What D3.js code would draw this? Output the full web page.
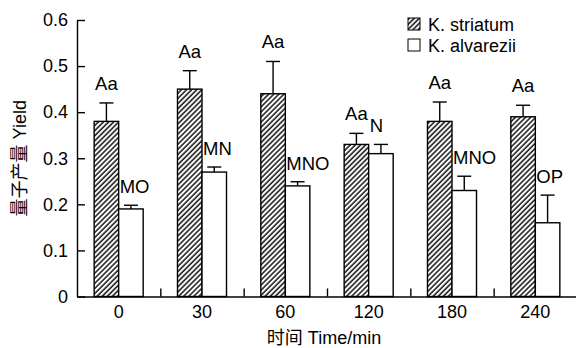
<!DOCTYPE html>
<html>
<head>
<meta charset="utf-8">
<script src="https://cdn.jsdelivr.net/npm/d3@7"></script>
<style>
  body { margin: 0; background: #fff; }
  svg text { font-family: "Liberation Sans", Arial, "Noto Sans CJK SC", sans-serif; fill: #000; }
</style>
</head>
<body>
<div id="chart"></div>
<script>
// data
const times = ["0", "30", "60", "120", "180", "240"];
const series = ["K. striatum", "K. alvarezii"];
const striatum = [0.38, 0.45, 0.44, 0.33, 0.38, 0.39];
const striatumErr = [0.04, 0.04, 0.07, 0.024, 0.042, 0.025];
const alvarezii = [0.19, 0.27, 0.24, 0.31, 0.23, 0.16];
const alvareziiErr = [0.008, 0.011, 0.009, 0.02, 0.031, 0.06];
const striatumSig = ["Aa", "Aa", "Aa", "Aa", "Aa", "Aa"];
const alvareziiSig = ["MO", "MN", "MNO", "N", "MNO", "OP"];
const yTicks = [0, 0.1, 0.2, 0.3, 0.4, 0.5, 0.6];

const width = 576, height = 348;
const plotL = 77, plotR = 577, plotT = 20, plotB = 296.5;

const svg = d3.select("#chart").append("svg")
  .attr("width", width).attr("height", height);

// hatch for K. striatum
const defs = svg.append("defs");
const pat = defs.append("pattern")
  .attr("id", "hatch")
  .attr("patternUnits", "userSpaceOnUse")
  .attr("width", 3.6).attr("height", 3.6)
  .attr("patternTransform", "rotate(45)");
pat.append("rect").attr("width", 3.6).attr("height", 3.6).attr("fill", "#fff");
pat.append("line")
  .attr("x1", 1).attr("y1", 0).attr("x2", 1).attr("y2", 3.6)
  .attr("stroke", "#222").attr("stroke-width", 1.6);

const x0 = d3.scaleBand().domain(times).range([plotL, plotR]);
const x1 = d3.scaleBand().domain(series).range([0, x0.bandwidth()]).paddingOuter(0.7);
const y = d3.scaleLinear().domain([0, 0.6]).range([plotB, plotT]);

const rows = times.map((t, i) => [
  { t, s: series[0], v: striatum[i], e: striatumErr[i], sig: striatumSig[i] },
  { t, s: series[1], v: alvarezii[i], e: alvareziiErr[i], sig: alvareziiSig[i] }
]).flat();

const fill = s => s === series[0] ? "url(#hatch)" : "#fff";

// error bars
const eb = svg.append("g").attr("stroke", "#000").attr("stroke-width", 1.4);
rows.forEach(d => {
  const cx = x0(d.t) + x1(d.s) + x1.bandwidth() / 2;
  eb.append("line").attr("x1", cx).attr("x2", cx).attr("y1", y(d.v)).attr("y2", y(d.v + d.e));
  eb.append("line").attr("x1", cx - 7).attr("x2", cx + 7).attr("y1", y(d.v + d.e)).attr("y2", y(d.v + d.e));
});

// bars
svg.append("g").selectAll("rect")
  .data(rows).enter().append("rect")
  .attr("x", d => x0(d.t) + x1(d.s))
  .attr("y", d => y(d.v))
  .attr("width", x1.bandwidth())
  .attr("height", d => y(0) - y(d.v))
  .attr("fill", d => fill(d.s))
  .attr("stroke", "#000")
  .attr("stroke-width", 1.4);

// significance letters
svg.append("g").selectAll("text")
  .data(rows).enter().append("text")
  .attr("x", d => d.s === series[0]
    ? x0(d.t) + x1(d.s) + x1.bandwidth() / 2
    : x0(d.t) + x1(d.s) + 1)
  .attr("y", d => y(d.v + d.e) - (d.s === series[0] ? 13 : 12))
  .attr("text-anchor", d => d.s === series[0] ? "middle" : "start")
  .attr("font-size", 18.5)
  .text(d => d.sig);

// y axis, ticks pointing inward
svg.append("g")
  .attr("transform", `translate(${plotL},0)`)
  .call(d3.axisLeft(y).tickValues(yTicks).tickSize(-8).tickSizeOuter(0).tickPadding(9)
    .tickFormat(d => d === 0 ? "0" : d3.format(".1f")(d)));

// x axis: labels under groups, ticks between groups
svg.append("g")
  .attr("transform", `translate(0,${plotB})`)
  .call(d3.axisBottom(x0).tickSize(0).tickPadding(9));
const xi = d3.scaleLinear().domain([0, times.length]).range([plotL, plotR]);
svg.append("g")
  .attr("transform", `translate(0,${plotB})`)
  .call(d3.axisBottom(xi).tickValues(d3.range(1, times.length)).tickSize(-8).tickSizeOuter(0).tickFormat(""))
  .select(".domain").remove();

svg.selectAll(".tick text").attr("font-size", 18).attr("font-family", "Liberation Sans, Arial, sans-serif");
svg.selectAll(".domain, .tick line").attr("stroke", "#000").attr("stroke-width", 1.4);

// axis titles
svg.append("text")
  .attr("x", (plotL + plotR) / 2 - 3).attr("y", 344)
  .attr("text-anchor", "middle").attr("font-size", 18)
  .text("时间  Time/min");
svg.append("text")
  .attr("transform", `translate(26,${(plotT + plotB) / 2}) rotate(-90)`)
  .attr("text-anchor", "middle").attr("font-size", 18)
  .text("量子产量 Yield");

// legend
const lg = svg.append("g").attr("transform", "translate(408,18)");
series.forEach((s, i) => {
  const row = lg.append("g").attr("transform", `translate(0,${i * 21})`);
  row.append("rect").attr("width", 12).attr("height", 12)
    .attr("fill", fill(s)).attr("stroke", "#000").attr("stroke-width", 1);
  row.append("text").attr("x", 20).attr("y", 12.5).attr("font-size", 18).text(s);
});
</script>
</body>
</html>
